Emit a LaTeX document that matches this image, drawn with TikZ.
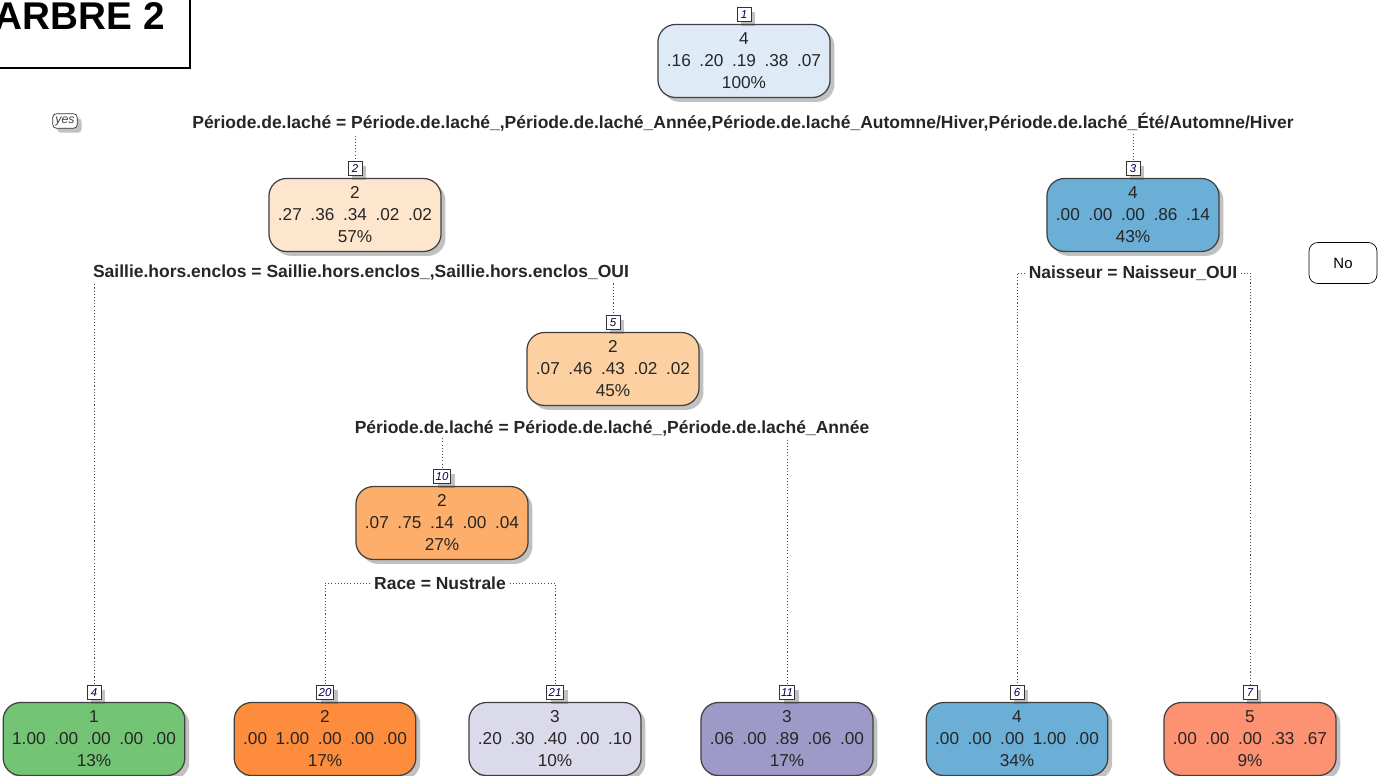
\documentclass[tikz,border=0pt]{standalone}
\usepackage{fontspec}
\setmainfont{Liberation Sans}
\usepackage{tikz}
\usetikzlibrary{positioning,shadows,backgrounds}

\definecolor{bleupale}{RGB}{222,235,247}
\definecolor{bleu}{RGB}{107,174,214}
\definecolor{peche}{RGB}{254,230,206}
\definecolor{orangepale}{RGB}{253,208,162}
\definecolor{orangemoyen}{RGB}{253,174,107}
\definecolor{orangefort}{RGB}{253,141,60}
\definecolor{vert}{RGB}{116,196,118}
\definecolor{mauvepale}{RGB}{218,218,235}
\definecolor{mauve}{RGB}{158,154,200}
\definecolor{saumon}{RGB}{252,146,114}

\newcommand{\gp}{\hspace{0.5em}}

\begin{document}
\begin{tikzpicture}[x=0.02cm,y=-0.02cm]
			\tikzstyle{every node}=[font=\fontsize{9.8}{12.5}\selectfont, text=black!85]
			\tikzstyle{ombre}=[drop shadow={shadow xshift=2.5pt, shadow yshift=-2.5pt, opacity=0.35, fill=black!70}]
			\tikzstyle{feuille}=[draw=black!75, line width=0.7pt, rounded corners=10pt, minimum height=1.46cm, inner xsep=0.18cm, align=center, ombre]
			\tikzstyle{numero}=[draw=black!80, fill=white, line width=0.5pt, inner sep=1pt, minimum size=0.28cm, font=\fontsize{6.5}{7}\selectfont\itshape, text=black!70!blue, ombre]
			\tikzstyle{regle}=[fill=white, inner sep=1.5pt, font=\fontsize{9.95}{12}\selectfont\bfseries]
			\tikzstyle{lien}=[draw=black!70, line width=0.5pt, dash pattern=on 0.6pt off 1.2pt]
			
			\useasboundingbox (0,0) rectangle (1390,776);
			
			% titre
			\draw[line width=1.1pt] (-20,68) -| (190,-20);
			\node[anchor=base east, inner sep=0pt, font=\fontsize{22}{24}\selectfont\bfseries, text=black] (titre) at (165,30) {ARBRE 2};
			
			\node[draw=black!80, fill=white, rounded corners=2pt, inner sep=1.5pt, font=\fontsize{7}{8}\selectfont\itshape, text=black!75, ombre] (oui) at (65,121) {yes};
			\node[draw=black, rounded corners=5pt, minimum width=1.36cm, minimum height=0.82cm, font=\fontsize{8.5}{9}\selectfont, text=black] (non) at (1343,263) {No};
			
			% noeuds
			\node[feuille, fill=bleupale] (n1) at (744,61) {4\\.16\gp.20\gp.19\gp.38\gp.07\\100\%};
			\node[feuille, fill=peche] (n2) at (355,215) {2\\.27\gp.36\gp.34\gp.02\gp.02\\57\%};
			\node[feuille, fill=bleu] (n3) at (1133,215) {4\\.00\gp.00\gp.00\gp.86\gp.14\\43\%};
			\node[feuille, fill=orangepale] (n5) at (613,369) {2\\.07\gp.46\gp.43\gp.02\gp.02\\45\%};
			\node[feuille, fill=orangemoyen] (n10) at (442,523) {2\\.07\gp.75\gp.14\gp.00\gp.04\\27\%};
			
			\node[feuille, fill=vert] (n4) at (94,739) {1\\1.00\gp.00\gp.00\gp.00\gp.00\\13\%};
			\node[feuille, fill=orangefort] (n20) at (325,739) {2\\.00\gp1.00\gp.00\gp.00\gp.00\\17\%};
			\node[feuille, fill=mauvepale] (n21) at (555,739) {3\\.20\gp.30\gp.40\gp.00\gp.10\\10\%};
			\node[feuille, fill=mauve] (n11) at (787,739) {3\\.06\gp.00\gp.89\gp.06\gp.00\\17\%};
			\node[feuille, fill=bleu] (n6) at (1017,739) {4\\.00\gp.00\gp.00\gp1.00\gp.00\\34\%};
			\node[feuille, fill=saumon] (n7) at (1250,739) {5\\.00\gp.00\gp.00\gp.33\gp.67\\9\%};
			
			% numeros
			\foreach \k in {1,2,3,5,10,4,20,21,11,6,7}
			\node[numero, above=1pt of n\k] (l\k) {\k};
			
			% regles
			\node[regle] (s1) at (743,122) {Période.de.laché = Période.de.laché\_,Période.de.laché\_Année,Période.de.laché\_Automne/Hiver,Période.de.laché\_Été/Automne/Hiver};
			\node[regle] (s2) at (361,273) {Saillie.hors.enclos = Saillie.hors.enclos\_,Saillie.hors.enclos\_OUI};
			\node[regle] (s3) at (1133,273) {Naisseur = Naisseur\_OUI};
			\node[regle] (s5) at (612,428) {Période.de.laché = Période.de.laché\_,Période.de.laché\_Année};
			\node[regle] (s10) at (440,583) {Race = Nustrale};
			
			\begin{scope}[on background layer]
			\draw[lien] (s1.center) -| (l2);
			\draw[lien] (s1.center) -| (l3);
			\draw[lien] (s2.center) -| (l4);
			\draw[lien] (s2.center) -| (l5);
			\draw[lien] (s3.center) -| (l6);
			\draw[lien] (s3.center) -| (l7);
			\draw[lien] (s5.center) -| (l10);
			\draw[lien] (s5.center) -| (l11);
			\draw[lien] (s10.center) -| (l20);
			\draw[lien] (s10.center) -| (l21);
			\end{scope}
\end{tikzpicture}
\end{document}
